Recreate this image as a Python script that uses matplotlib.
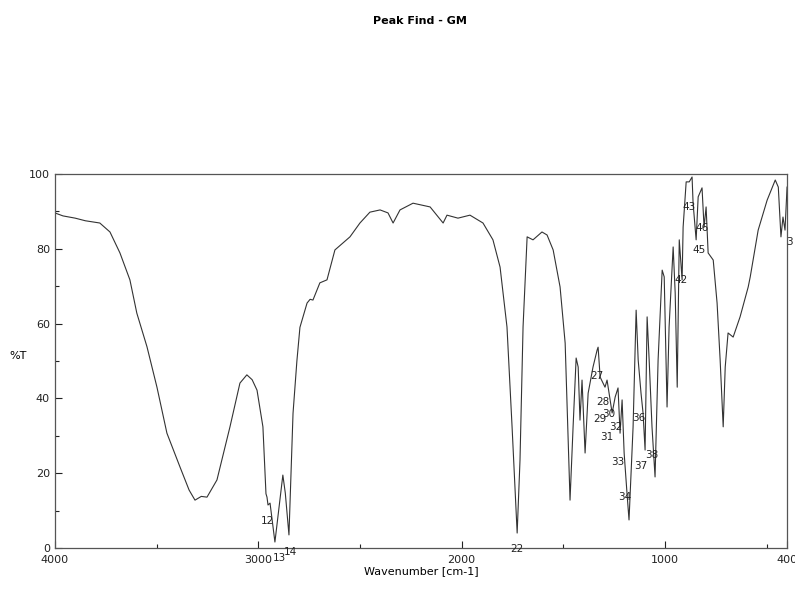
import numpy as np
import matplotlib
matplotlib.use("Agg")
import matplotlib.pyplot as plt

# IR spectrum, wavenumber [cm-1] vs %T
wavenumber = [4000, 3960, 3900, 3850, 3779, 3729, 3680, 3631, 3597, 3547,
              3498, 3449, 3385, 3340, 3311, 3280, 3252, 3203, 3139, 3090,
              3056, 3030, 3006, 2977, 2962, 2957, 2952, 2942, 2918, 2905,
              2879, 2867, 2849, 2829, 2810, 2795, 2760, 2745, 2731, 2697,
              2662, 2623, 2549, 2500, 2451, 2401, 2362, 2337, 2303, 2239,
              2155, 2091, 2072, 2018, 1959, 1895, 1846, 1811, 1777, 1752,
              1727, 1713, 1698, 1678, 1649, 1605, 1580, 1550, 1516, 1491,
              1467, 1452, 1437, 1427, 1418, 1408, 1393, 1378, 1354, 1334,
              1329, 1319, 1295, 1285, 1275, 1260, 1245, 1231, 1221, 1211,
              1201, 1187, 1177, 1157, 1142, 1132, 1118, 1108, 1098, 1088,
              1078, 1064, 1049, 1034, 1014, 1004, 990, 980, 960, 950,
              940, 930, 916, 911, 896, 881, 867, 862, 847, 837,
              818, 808, 798, 788, 763, 744, 729, 714, 704, 690,
              665, 631, 591, 581, 542, 498, 458, 443, 430, 420,
              410, 400]
transmittance = [89.6, 88.8, 88.2, 87.5, 86.9, 84.5, 78.9, 71.7, 62.8, 53.8,
                 43.0, 30.7, 21.7, 15.5, 12.8, 13.8, 13.6, 18.2, 32.4, 44.1,
                 46.3, 45.0, 42.2, 32.4, 14.5, 13.6, 11.5, 12.0, 1.6, 7.5,
                 19.5, 14.7, 3.5, 36.0, 50.0, 59.0, 65.5, 66.5, 66.3, 70.9,
                 71.7, 79.7, 83.2, 86.9, 89.8, 90.4, 89.6, 86.9, 90.4, 92.2,
                 91.2, 86.9, 89.0, 88.2, 89.0, 86.9, 82.4, 75.1, 59.1, 32.4,
                 4.0, 23.5, 59.1, 83.2, 82.4, 84.5, 83.7, 79.7, 69.8, 54.8,
                 12.8, 32.4, 50.8, 48.4, 34.2, 44.9, 25.4, 41.4, 48.4, 52.9,
                 53.7, 45.7, 43.0, 44.9, 41.4, 36.1, 40.4, 42.8, 30.7, 39.6,
                 25.4, 14.7, 7.5, 32.4, 63.6, 50.3, 41.4, 36.1, 26.2, 61.8,
                 50.3, 32.4, 19.0, 50.3, 74.3, 72.5, 37.7, 59.1, 80.5, 68.2,
                 43.0, 82.4, 71.7, 85.8, 97.9, 97.9, 99.2, 92.2, 82.4, 93.9,
                 96.3, 85.8, 91.2, 78.9, 77.0, 65.5, 50.3, 32.4, 48.4, 57.5,
                 56.4, 61.8, 69.8, 72.5, 85.0, 93.0, 98.4, 96.5, 83.2, 88.5,
                 85.0, 96.5]

# peak labels: text, wavenumber, %T where the number sits
peak_labels = ["12", "13", "14", "22", "27", "28", "29", "30", "31", "32",
               "33", "34", "36", "37", "38", "42", "43", "45", "46", "3"]
peak_w = [2957, 2895, 2844, 1727, 1334, 1305, 1322, 1276, 1288, 1243,
          1230, 1200, 1130, 1118, 1063, 922, 883, 833, 818, 390]
peak_t = [7.2, -2.6, -1.0, -0.2, 46.0, 39.0, 34.5, 35.8, 29.7, 32.3,
          23.0, 13.6, 34.8, 22.0, 24.9, 71.7, 91.2, 79.7, 85.6, 81.8]

fig = plt.figure(figsize=(7.95, 5.98), dpi=100)
ax = fig.add_axes([0.069, 0.0836, 0.921, 0.6254])

ax.plot(wavenumber, transmittance, color="#333333", lw=0.8)

for lab, w, t in zip(peak_labels, peak_w, peak_t):
    ax.text(w, t, lab, fontsize=7.5, color="#222222", ha="center", va="center",
            clip_on=False)

ax.set_xlim(4000, 400)
ax.set_ylim(0, 100)
ax.set_xticks([4000, 3000, 2000, 1000, 400])
ax.set_xticks([3500, 2500, 1500, 500], minor=True)
ax.set_yticks([0, 20, 40, 60, 80, 100])
ax.set_yticks([10, 30, 50, 70, 90], minor=True)
ax.tick_params(which="both", direction="in", labelsize=8, colors="#222222", width=0.8)
ax.tick_params(which="major", length=5)
ax.tick_params(which="minor", length=3)
ax.tick_params(axis="x", pad=5)
for s in ax.spines.values():
    s.set_color("#555555")
    s.set_linewidth(0.9)

ax.set_xlabel("Wavenumber [cm-1]", fontsize=8, labelpad=1)
ax.set_ylabel("%T", fontsize=8, rotation=0, labelpad=8)
fig.text(0.528, 0.965, "Peak Find - GM", fontsize=8, fontweight="bold",
         ha="center", va="center")

fig.savefig("out.png", dpi=100)
